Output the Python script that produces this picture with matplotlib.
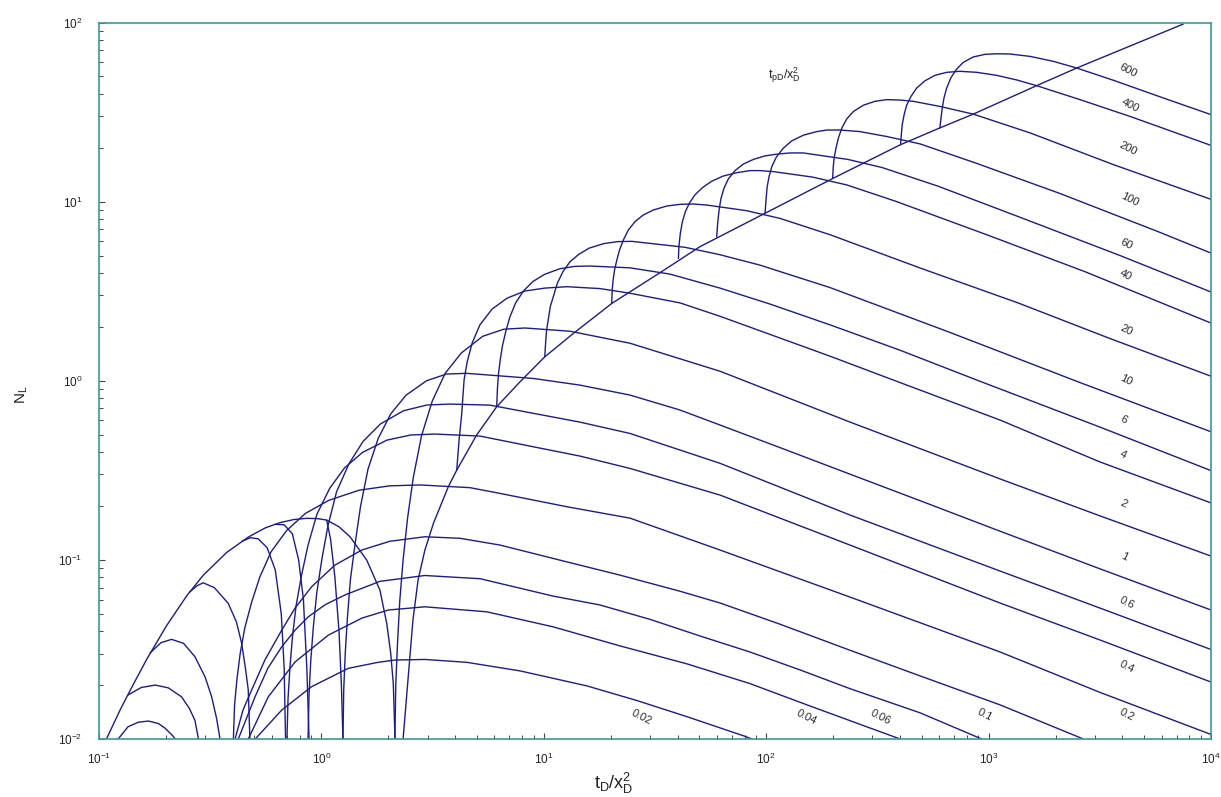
import matplotlib
matplotlib.use("Agg")
import matplotlib.pyplot as plt
from matplotlib.ticker import LogLocator, NullFormatter, FixedLocator, FixedFormatter

plt.rcParams['font.family'] = ['Liberation Sans', 'DejaVu Sans']
plt.rcParams['mathtext.fontset'] = 'custom'
plt.rcParams['mathtext.rm'] = 'Liberation Sans'
plt.rcParams['mathtext.it'] = 'Liberation Sans:italic'
plt.rcParams['mathtext.default'] = 'regular'

LINE = '#1c1c8a'
SPINE = '#3a9a9a'

# ---------------- data ----------------
# common envelope (early arch)
env_t = [0.108, 0.125, 0.143, 0.164, 0.201, 0.248, 0.294, 0.375, 0.469, 0.560, 0.652, 0.750, 0.859, 0.960, 1.056, 1.20, 1.345, 1.599, 1.833, 1.967, 2.05, 2.105, 2.143]
env_n = [0.01, 0.0147, 0.0203, 0.0279, 0.0428, 0.0630, 0.0820, 0.110, 0.134, 0.151, 0.1614, 0.1679, 0.1706, 0.170, 0.1668, 0.153, 0.1346, 0.0997, 0.0678, 0.0442, 0.030, 0.0204, 0.01]

# common late envelope (rising line)
line_t = [2.33, 2.45, 2.58, 2.72, 2.92, 3.19, 3.72, 4.06, 4.99, 6.14, 7.82, 10.1, 13.6, 20.2, 33.3, 50.3, 98.8, 200, 402, 604, 853, 1644, 2490, 7500]
line_n = [0.01, 0.0213, 0.0461, 0.0771, 0.1135, 0.160, 0.256, 0.317, 0.498, 0.716, 0.987, 1.36, 1.84, 2.70, 4.01, 5.60, 8.61, 13.5, 20.8, 25.8, 30.8, 44.4, 55.7, 98.0]

# early arches leaving the envelope
a1_t = [0.122, 0.135, 0.150, 0.167, 0.185, 0.198, 0.215, 0.22]
a1_n = [0.01, 0.0117, 0.0124, 0.0126, 0.0122, 0.0115, 0.0104, 0.01]
a2_t = [0.135, 0.155, 0.179, 0.205, 0.235, 0.255, 0.270, 0.28]
a2_n = [0.0176, 0.0194, 0.0200, 0.0193, 0.0172, 0.0148, 0.0127, 0.01]
a3_t = [0.17, 0.19, 0.212, 0.24, 0.27, 0.30, 0.321, 0.338, 0.35]
a3_n = [0.0303, 0.0345, 0.036, 0.0342, 0.0288, 0.0222, 0.0172, 0.0130, 0.01]
a4_t = [0.255, 0.275, 0.294, 0.33, 0.381, 0.415, 0.438, 0.455, 0.469, 0.477]
a4_n = [0.066, 0.0715, 0.0745, 0.070, 0.0572, 0.045, 0.0342, 0.025, 0.0188, 0.01]
a5_t = [0.44, 0.48, 0.52, 0.57, 0.62, 0.66, 0.68, 0.69]
a5_n = [0.127, 0.133, 0.131, 0.117, 0.088, 0.05, 0.025, 0.01]
a6_t = [0.62, 0.68, 0.74, 0.79, 0.83, 0.86, 0.88]
a6_n = [0.158, 0.157, 0.14, 0.10, 0.06, 0.025, 0.01]
a7_t = [1.056, 1.10, 1.15, 1.20, 1.23, 1.25]
a7_n = [0.1668, 0.13, 0.08, 0.04, 0.02, 0.01]

# late branches, one per t_pD/x_D^2
c002_t = [0.504, 0.663, 0.904, 1.32, 1.80, 2.14, 2.92, 4.5, 7.82, 15.6, 26.2, 43.9, 80.3, 86.1]
c002_n = [0.01, 0.0145, 0.0196, 0.0248, 0.0268, 0.0276, 0.0278, 0.0268, 0.0240, 0.0198, 0.0164, 0.01334, 0.01035, 0.01]
c004_t = [0.469, 0.577, 0.761, 1.074, 1.52, 2.0, 2.92, 5.54, 11.0, 22.0, 43.9, 84.4, 157, 400]
c004_n = [0.01, 0.0172, 0.0269, 0.0380, 0.0473, 0.0525, 0.0547, 0.0513, 0.0423, 0.0331, 0.0263, 0.0204, 0.0153, 0.01]
c006_t = [0.423, 0.503, 0.575, 0.663, 0.761, 0.873, 1.04, 1.28, 1.834, 2.92, 5.17, 11.0, 17.9, 30.1, 50.4, 84.5, 142, 238, 492, 931]
c006_n = [0.01, 0.0172, 0.0249, 0.0327, 0.0405, 0.0481, 0.0562, 0.0638, 0.0759, 0.0818, 0.0785, 0.0628, 0.0560, 0.0465, 0.0376, 0.0306, 0.0243, 0.0191, 0.0140, 0.01]
c01_t = [0.409, 0.444, 0.486, 0.557, 0.663, 0.761, 0.904, 1.15, 1.52, 2.03, 2.92, 4.20, 6.35, 11.8, 22.0, 41.0, 61.9, 115, 238, 492, 1127, 2667]
c01_n = [0.01, 0.0145, 0.0188, 0.0276, 0.0405, 0.0538, 0.0708, 0.0935, 0.1135, 0.127, 0.1346, 0.132, 0.121, 0.0997, 0.0822, 0.0668, 0.0575, 0.0438, 0.0313, 0.0225, 0.0155, 0.01]
c02_t = [0.402, 0.407, 0.417, 0.431, 0.452, 0.485, 0.528, 0.594, 0.698, 0.849, 1.08, 1.48, 2.03, 2.78, 4.66, 6.355, 12.7, 24.4, 62.0, 238, 1127, 3170, 10000]
c02_n = [0.01, 0.0155, 0.0215, 0.0298, 0.0415, 0.0577, 0.080, 0.111, 0.146, 0.182, 0.215, 0.245, 0.259, 0.262, 0.253, 0.235, 0.198, 0.171, 0.1135, 0.062, 0.0306, 0.0182, 0.0106]
c04_t = [0.700, 0.708, 0.722, 0.741, 0.769, 0.814, 0.871, 0.955, 1.09, 1.27, 1.53, 1.97, 2.52, 3.24, 5.17, 8.97, 14.5, 24.4, 62.0, 238, 1127, 3170, 10000]
c04_n = [0.01, 0.0169, 0.0251, 0.0372, 0.0552, 0.0820, 0.121, 0.180, 0.251, 0.326, 0.398, 0.466, 0.498, 0.504, 0.491, 0.428, 0.380, 0.324, 0.230, 0.121, 0.0574, 0.0357, 0.0208]
c06_t = [0.871, 0.880, 0.896, 0.920, 0.953, 1.005, 1.07, 1.17, 1.33, 1.54, 1.84, 2.34, 2.98, 3.79, 5.73, 8.97, 14.5, 24.4, 62.0, 238, 1127, 3170, 10000]
c06_n = [0.01, 0.0178, 0.0275, 0.0423, 0.0654, 0.101, 0.155, 0.240, 0.344, 0.459, 0.573, 0.680, 0.732, 0.741, 0.731, 0.658, 0.588, 0.508, 0.346, 0.178, 0.0866, 0.0538, 0.0316]
c1_t = [1.25, 1.26, 1.28, 1.31, 1.35, 1.42, 1.50, 1.62, 1.80, 2.05, 2.40, 2.97, 3.65, 4.50, 8.97, 14.5, 24.4, 41.0, 62.0, 115, 238, 492, 1127, 3170, 10000]
c1_n = [0.01, 0.0188, 0.0301, 0.0482, 0.0775, 0.125, 0.1995, 0.321, 0.476, 0.653, 0.830, 1.0, 1.09, 1.10, 1.03, 0.946, 0.832, 0.686, 0.566, 0.424, 0.301, 0.214, 0.1445, 0.0891, 0.0525]
c2_t = [2.14, 2.16, 2.20, 2.25, 2.33, 2.44, 2.59, 2.82, 3.15, 3.60, 4.26, 5.31, 6.61, 8.23, 13.1, 24.4, 62.0, 238, 1127, 3170, 10000]
c2_n = [0.01, 0.0203, 0.0346, 0.0586, 0.100, 0.171, 0.289, 0.493, 0.769, 1.10, 1.43, 1.77, 1.94, 1.97, 1.89, 1.62, 1.13, 0.588, 0.283, 0.176, 0.105]
c4_t = [4.06, 4.16, 4.27, 4.38, 4.52, 4.76, 5.16, 5.85, 6.83, 8.23, 10.1, 12.7, 17.9, 24.4, 41.0, 62.0, 194, 373, 1127, 3170, 10000]
c4_n = [0.317, 0.467, 0.643, 1.009, 1.27, 1.62, 2.05, 2.51, 2.89, 3.17, 3.29, 3.35, 3.27, 3.08, 2.72, 2.29, 1.37, 1.009, 0.603, 0.352, 0.208]
c6_t = [6.14, 6.19, 6.26, 6.37, 6.52, 6.75, 7.04, 7.47, 8.10, 8.93, 10.05, 11.8, 13.8, 16.1, 24.4, 36.9, 62.0, 104, 194, 400, 885, 3170, 10000]
c6_n = [0.716, 0.913, 1.10, 1.31, 1.57, 1.89, 2.27, 2.72, 3.17, 3.58, 3.92, 4.22, 4.35, 4.37, 4.27, 3.94, 3.29, 2.68, 2.05, 1.48, 1.009, 0.551, 0.315]
c10_t = [10.1, 10.2, 10.3, 10.5, 10.7, 11.1, 11.5, 12.2, 13.1, 14.4, 16.0, 18.6, 21.5, 24.9, 43.1, 61.3, 93.8, 194, 671, 2576, 10000]
c10_n = [1.36, 1.66, 1.93, 2.24, 2.60, 3.02, 3.50, 4.07, 4.61, 5.09, 5.50, 5.83, 5.98, 6.00, 5.56, 5.07, 4.42, 3.31, 1.86, 0.977, 0.519]
c20_t = [20.2, 20.3, 20.5, 20.8, 21.3, 21.9, 22.8, 24.0, 25.7, 28.0, 31.1, 35.7, 41.0, 47.0, 54.0, 81.2, 115, 194, 492, 1356, 3516, 10000]
c20_n = [2.70, 3.21, 3.65, 4.15, 4.72, 5.37, 6.11, 6.95, 7.73, 8.42, 8.98, 9.45, 9.66, 9.70, 9.57, 8.91, 8.07, 6.53, 4.26, 2.72, 1.72, 1.06]
c40_t = [40.3, 40.5, 41.1, 42.0, 43.3, 45.1, 47.8, 51.8, 56.9, 64.1, 73.6, 84.6, 93.8, 108, 162, 230, 386, 982, 2704, 7015, 10000]
c40_n = [4.82, 5.60, 6.65, 7.73, 8.79, 9.79, 10.9, 12.0, 13.0, 13.9, 14.5, 14.9, 14.9, 14.7, 13.7, 12.4, 10.0, 6.53, 4.07, 2.51, 2.10]
c60_t = [59.9, 60.5, 61.4, 62.6, 64.6, 67.6, 72.4, 78.9, 87.5, 98.8, 111, 128, 147, 233, 332, 592, 1413, 3900, 10000]
c60_n = [6.37, 7.57, 8.98, 10.4, 11.9, 13.4, 14.9, 16.2, 17.2, 18.0, 18.4, 18.7, 18.7, 17.2, 15.5, 12.2, 8.10, 5.0, 3.13]
c100_t = [98.8, 99.8, 101, 103, 106, 111, 119, 130, 147, 169, 187, 215, 264, 348, 492, 878, 2094, 5780, 10000]
c100_n = [8.61, 10.2, 12.1, 13.8, 15.7, 17.7, 19.8, 21.8, 23.5, 24.6, 25.1, 25.1, 24.6, 23.1, 21.0, 16.4, 11.1, 6.8, 5.16]
c200_t = [199, 200, 202, 206, 211, 219, 230, 247, 273, 308, 348, 400, 459, 604, 853, 1535, 3637, 10000]
c200_n = [13.5, 15.4, 17.5, 19.9, 22.6, 25.8, 28.9, 31.9, 34.5, 36.3, 37.1, 36.9, 36.3, 34.0, 30.8, 24.2, 16.1, 10.3]
c400_t = [402, 405, 409, 417, 428, 448, 475, 518, 574, 648, 743, 885, 1087, 1337, 1644, 2576, 4325, 10000]
c400_n = [20.8, 23.6, 26.9, 30.6, 34.5, 38.7, 43.1, 47.3, 50.7, 52.7, 53.4, 52.7, 50.7, 47.8, 44.4, 37.1, 29.9, 20.6]
c600_t = [604, 611, 619, 630, 648, 676, 714, 769, 853, 963, 1087, 1247, 1535, 1955, 2490, 3637, 6105, 10000]
c600_n = [25.8, 29.3, 33.3, 37.9, 43.1, 49.0, 54.5, 59.9, 64.2, 66.4, 66.9, 66.7, 64.7, 60.7, 55.7, 47.6, 37.9, 30.6]

# curve labels (text, position in data units)
lab_txt = ['600', '400', '200', '100', '60', '40', '20', '10', '6', '4', '2', '1',
           '0.6', '0.4', '0.2', '0.1', '0.06', '0.04', '0.02']
lab_t = [4236, 4325, 4236, 4325, 4150, 4150, 4150, 4150, 4025, 4025, 4025, 4065,
         4195, 4195, 4195, 964, 328, 152, 27.4]
lab_n = [53.6, 34.6, 19.9, 10.3, 5.79, 3.89, 1.92, 1.01, 0.603, 0.385, 0.207, 0.104,
         0.0574, 0.0252, 0.0136, 0.0136, 0.0133, 0.0133, 0.0133]

xticks = [0.1, 1, 10, 100, 1000, 10000]
xtick_labels = [r'$10^{-1}$', r'$10^{0}$', r'$10^{1}$', r'$10^{2}$', r'$10^{3}$', r'$10^{4}$']
yticks = [0.01, 0.1, 1, 10, 100]
ytick_labels = [r'$10^{-2}$', r'$10^{-1}$', r'$10^{0}$', r'$10^{1}$', r'$10^{2}$']

# ---------------- figure ----------------
W, H = 1221, 797
fig = plt.figure(figsize=(W / 100, H / 100), dpi=100)
fig.patch.set_facecolor('white')
ax = fig.add_axes([99 / W, 1 - 739 / H, (1211 - 99) / W, (739 - 22.5) / H])
ax.set_xscale('log')
ax.set_yscale('log')
ax.set_xlim(0.1, 1e4)
ax.set_ylim(0.01, 100)

curves = [(env_t, env_n), (line_t, line_n),
          (a1_t, a1_n), (a2_t, a2_n), (a3_t, a3_n), (a4_t, a4_n), (a5_t, a5_n), (a6_t, a6_n), (a7_t, a7_n),
          (c002_t, c002_n), (c004_t, c004_n), (c006_t, c006_n), (c01_t, c01_n), (c02_t, c02_n),
          (c04_t, c04_n), (c06_t, c06_n), (c1_t, c1_n), (c2_t, c2_n), (c4_t, c4_n), (c6_t, c6_n),
          (c10_t, c10_n), (c20_t, c20_n), (c40_t, c40_n), (c60_t, c60_n), (c100_t, c100_n),
          (c200_t, c200_n), (c400_t, c400_n), (c600_t, c600_n)]
for t, n in curves:
    ax.plot(t, n, color=LINE, lw=1.0, solid_joinstyle='round', solid_capstyle='round')

for txt, t, n in zip(lab_txt, lab_t, lab_n):
    ax.text(t, n, txt, fontsize=8, color='#2a2a2a', rotation=-27,
            ha='center', va='center')

ax.text(120.6, 50.9, r'$t_{pD}/x_D^2$', fontsize=9, color='#222222', ha='center', va='center')

for s in ['top', 'right', 'left', 'bottom']:
    ax.spines[s].set_color(SPINE)
    ax.spines[s].set_linewidth(1.2)

ax.xaxis.set_major_locator(FixedLocator(xticks))
ax.xaxis.set_major_formatter(FixedFormatter(xtick_labels))
ax.yaxis.set_major_locator(FixedLocator(yticks))
ax.yaxis.set_major_formatter(FixedFormatter(ytick_labels))
ax.xaxis.set_minor_locator(LogLocator(base=10, subs=range(2, 10)))
ax.yaxis.set_minor_locator(LogLocator(base=10, subs=range(2, 10)))
ax.xaxis.set_minor_formatter(NullFormatter())
ax.yaxis.set_minor_formatter(NullFormatter())
ax.tick_params(which='both', direction='in', top=False, right=False, color='#444444')
ax.tick_params(which='major', length=4, width=0.8, labelsize=8.5, labelcolor='#222222')
ax.tick_params(which='minor', length=3, width=0.7)
ax.tick_params(axis='x', pad=9)
ax.tick_params(axis='y', pad=12)

fig.text(614 / W, 1 - 783 / H, r'$t_D/x_D^2$', fontsize=13, color='#222222', ha='center', va='center')
fig.text(22 / W, 1 - 395 / H, r'$N_L$', fontsize=11, color='#222222', ha='center', va='center', rotation=90)

fig.savefig('out.png', dpi=100)
